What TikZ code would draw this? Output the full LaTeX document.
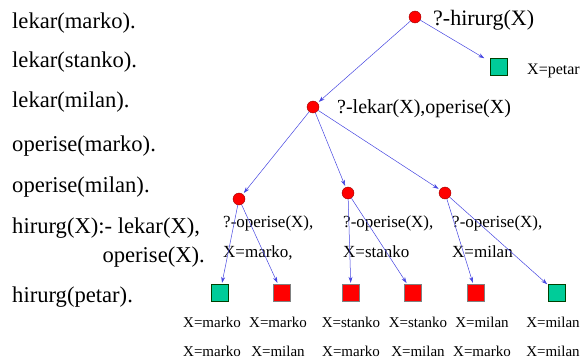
\documentclass[tikz,border=0pt]{standalone}
\usepackage{fontspec}
\setmainfont{Liberation Serif}
\usetikzlibrary{arrows.meta}

\definecolor{okgreen}{RGB}{0,204,153}
\definecolor{linkblue}{RGB}{70,70,225}

\begin{document}
\begin{tikzpicture}[x=1pt, y=-1pt,
    goal/.style={circle, draw=red!60!black, fill=red, minimum size=12pt, inner sep=0pt},
    yes/.style={rectangle, draw=green!25!black, fill=okgreen, minimum size=17pt, inner sep=0pt},
    no/.style={rectangle, draw=gray, fill=red, minimum size=17pt, inner sep=0pt},
    link/.style={draw=linkblue, line width=0.5pt, -{Stealth[length=6pt,width=4pt]}, shorten >=1.5pt},
    fact/.style={anchor=base west, inner sep=0pt, font=\fontsize{22.6}{26}\selectfont},
    query/.style={anchor=base west, inner sep=0pt},
    answer/.style={anchor=north, inner sep=0pt, align=center, font=\fontsize{15}{29}\selectfont}
    ]
    \useasboundingbox (0,0) rectangle (581,364);

    % program
    \node[fact] (f1) at (12,28) {lekar(marko).};
    \node[fact] (f2) at (12,67) {lekar(stanko).};
    \node[fact] (f3) at (12,107) {lekar(milan).};
    \node[fact] (f4) at (12,151) {operise(marko).};
    \node[fact] (f5) at (12,192) {operise(milan).};
    \node[fact] (r1) at (12,233) {hirurg(X):- lekar(X),};
    \node[fact, anchor=base east] (r2) at (205,262) {operise(X).};
    \node[fact] (f6) at (12,302) {hirurg(petar).};

    % search tree
    \node[goal] (root) at (415,17) {};
    \node[yes] (petar) at (499,67) {};
    \node[goal] (g) at (313,107) {};
    \node[goal] (ga) at (239,199) {};
    \node[goal] (gb) at (348,193) {};
    \node[goal] (gc) at (445,193) {};
    \node[yes] (l1) at (220,293) {};
    \node[no] (l2) at (282,293) {};
    \node[no] (l3) at (351,293) {};
    \node[no] (l4) at (413,293) {};
    \node[no] (l5) at (476,293) {};
    \node[yes] (l6) at (557,293) {};

    \node[query, font=\fontsize{22}{26}\selectfont] (qroot) at (433,25) {?-hirurg(X)};
    \node[query, font=\fontsize{16}{19}\selectfont] (qpetar) at (527,74) {X=petar};
    \node[query, font=\fontsize{20}{24}\selectfont] (qg) at (337,113) {?-lekar(X),operise(X)};
    \node[query, font=\fontsize{17}{20}\selectfont] (qa) at (223,227) {?-operise(X),};
    \node[query, font=\fontsize{17}{20}\selectfont] (xa) at (223,257) {X=marko,};
    \node[query, font=\fontsize{17}{20}\selectfont] (qb) at (343,227) {?-operise(X),};
    \node[query, font=\fontsize{17}{20}\selectfont] (xb) at (343,257) {X=stanko};
    \node[query, font=\fontsize{17}{20}\selectfont] (qc) at (452,227) {?-operise(X),};
    \node[query, font=\fontsize{17}{20}\selectfont] (xc) at (452,257) {X=milan};

    \node[answer] (a1) at (212,317) {X=marko\\X=marko};
    \node[answer] (a2) at (278,317) {X=marko\\X=milan};
    \node[answer] (a3) at (351,317) {X=stanko\\X=marko};
    \node[answer] (a4) at (418,317) {X=stanko\\X=milan};
    \node[answer] (a5) at (482,317) {X=milan\\X=marko};
    \node[answer] (a6) at (553,317) {X=milan\\X=milan};

    \draw[link] (root) -- (g);
    \draw[link, shorten >=7pt] (root) -- (petar);
    \draw[link] (g) -- (ga);
    \draw[link] (g) -- (gb);
    \draw[link] (g) -- (gc);
    \draw[link] (ga) -- (l1);
    \draw[link] (ga) -- (l2);
    \draw[link] (gb) -- (l3);
    \draw[link] (gb) -- (l4);
    \draw[link] (gc) -- (l5);
    \draw[link] (gc) -- (l6);
  \end{tikzpicture}
\end{document}
